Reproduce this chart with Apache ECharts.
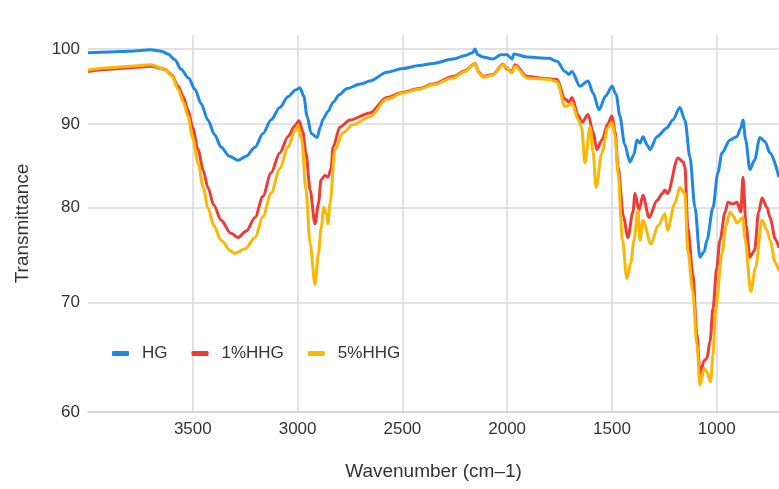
<!DOCTYPE html>
<html>
<head>
<meta charset="utf-8">
<title>FTIR</title>
<script src="https://cdn.jsdelivr.net/npm/echarts@6/dist/echarts.min.js"></script>
<style>
  html, body { margin: 0; padding: 0; background: #fff; }
  #main { width: 779px; height: 489px; }
</style>
</head>
<body>
<div id="main"></div>
<script>
// wavenumber (cm-1) / transmittance
var hgWave = [4000,3900,3800,3700,3650,3618,3585,3556,3520,3490,3460,3428,3395,3365,3325,3284,3245,3203,3165,3127,3085,3046,3010,2989,2970,2955,2935,2907,2890,2879,2855,2830,2800,2764,2700,2655,2574,2497,2420,2354,2259,2200,2165,2154,2140,2116,2068,2030,2000,1985,1977,1968,1905,1800,1762,1724,1705,1691,1653,1614,1590,1562,1530,1500,1480,1462,1440,1414,1395,1381,1366,1352,1330,1319,1285,1238,1210,1176,1152,1128,1104,1080,1060,1047,1018,995,975,937,904,885,875,862,842,820,794,770,746,703];
var hgT = [99.5,99.6,99.7,99.9,99.7,99.3,98.5,97.2,96.0,94.5,92.6,90.5,88.6,87.1,86.0,85.5,86.0,87.1,88.8,90.5,92.1,93.5,94.4,94.7,93.6,91.0,88.8,88.3,89.7,90.6,91.6,92.8,93.8,94.6,95.2,95.6,96.8,97.3,97.7,98.0,98.6,99.1,99.5,100.0,99.2,98.9,98.6,99.2,99.2,98.8,98.6,99.3,98.9,98.7,98.3,96.9,96.5,96.9,94.9,95.6,94.0,91.8,93.6,94.9,93.8,91.0,87.5,85.3,86.2,88.0,87.6,88.4,87.3,86.8,88.4,89.5,90.5,92.1,90.5,85.9,80.0,74.6,75.2,76.4,80.0,84.0,86.4,88.0,88.4,89.5,90.5,88.0,84.4,85.5,88.3,87.8,86.4,83.5];

var hhg1Wave = [4000,3900,3800,3700,3633,3600,3570,3545,3523,3500,3475,3450,3428,3400,3365,3320,3284,3245,3203,3165,3127,3085,3046,3015,2993,2975,2960,2940,2917,2900,2888,2870,2855,2840,2831,2798,2750,2655,2574,2497,2420,2354,2259,2200,2154,2135,2116,2068,2020,2000,1985,1977,1963,1905,1800,1762,1724,1705,1691,1660,1643,1614,1590,1572,1548,1520,1500,1485,1471,1445,1424,1400,1390,1371,1352,1323,1285,1260,1247,1235,1185,1160,1152,1138,1114,1095,1080,1060,1047,1032,1018,1000,985,960,947,925,904,885,875,860,842,820,800,784,760,746,720,703];
var hhg1T = [96.9,97.2,97.4,97.6,97.2,96.4,94.9,93.5,91.8,89.5,86.8,84.3,82.3,80.3,78.6,77.2,76.7,77.4,78.9,81.3,84.0,86.4,88.4,89.7,90.4,89.0,86.4,82.0,78.2,80.5,83.2,83.7,83.5,84.5,87.1,89.6,90.5,91.4,93.4,94.1,94.6,95.2,96.2,97.0,98.0,96.8,96.2,96.5,97.9,97.2,97.0,96.9,97.8,96.2,95.9,95.8,93.2,92.8,93.4,91.0,90.2,91.2,89.0,86.8,88.0,90.0,91.0,89.0,84.7,79.0,76.7,79.5,81.6,79.7,81.4,78.9,80.8,81.6,82.0,81.6,85.8,85.3,84.7,77.8,72.9,67.0,63.3,64.5,64.7,66.3,69.4,73.5,76.4,79.5,80.6,80.4,80.6,79.5,83.5,78.0,74.6,75.3,79.5,81.1,80.0,78.9,76.5,75.6];

var hhg5Wave = [4000,3900,3800,3700,3633,3600,3570,3545,3523,3500,3475,3450,3428,3400,3365,3320,3299,3250,3203,3165,3127,3085,3046,3015,2998,2980,2960,2940,2917,2900,2888,2875,2862,2855,2845,2822,2783,2736,2655,2574,2497,2420,2354,2259,2200,2154,2135,2116,2068,2020,2000,1985,1977,1963,1905,1800,1762,1724,1705,1691,1660,1645,1629,1605,1590,1576,1548,1520,1500,1485,1471,1450,1429,1410,1395,1376,1366,1352,1314,1280,1247,1235,1200,1176,1152,1138,1114,1095,1080,1060,1047,1030,1018,1005,975,955,937,920,904,875,865,837,815,784,760,746,720,703];
var hhg5T = [97.1,97.4,97.6,97.8,97.2,96.3,94.5,92.8,91.0,88.2,85.2,82.3,80.0,78.0,76.4,75.3,75.0,75.5,76.7,79.0,81.6,84.5,87.1,89.0,89.8,88.0,82.0,76.0,71.8,75.0,77.7,80.0,79.3,78.2,80.5,86.8,88.9,89.9,90.9,93.2,94.0,94.5,95.1,96.0,96.9,98.0,96.7,96.1,96.4,97.8,97.4,96.8,96.7,97.6,96.0,95.8,95.5,92.2,92.4,92.7,90.5,89.6,85.2,89.6,86.5,82.3,86.4,89.5,90.2,88.5,84.0,76.5,72.4,74.0,76.4,79.7,76.4,78.6,76.0,78.0,79.3,77.5,80.5,82.3,81.6,75.3,71.1,66.0,62.3,63.8,63.5,62.6,65.0,69.4,75.0,78.0,79.5,79.0,78.3,78.9,76.5,71.1,73.5,78.6,77.5,76.4,74.0,73.2];

var seriesNames = ['HG', '1%HHG', '5%HHG'];
var seriesColors = ['#1e88e5', '#ef3b36', '#fbb704'];
var xTicks = [1000, 1500, 2000, 2500, 3000, 3500];
var yTicks = [60, 70, 80, 90, 100];

function pairs(xs, ys) {
  return xs.map(function (x, i) { return [x, ys[i]]; });
}

var seriesData = [pairs(hgWave, hgT), pairs(hhg1Wave, hhg1T), pairs(hhg5Wave, hhg5T)];

var font = 'Liberation Sans, Arial, sans-serif';
var textColor = '#333333';
var chart = echarts.init(document.getElementById('main'));

chart.setOption({
  animation: false,
  backgroundColor: '#ffffff',
  textStyle: { fontFamily: font },
  grid: { left: 88, right: 0, top: 35, bottom: 77 },
  legend: {
    left: 107,
    top: 340,
    icon: 'roundRect',
    itemWidth: 17,
    itemHeight: 5,
    itemGap: 24,
    textStyle: { fontSize: 17, color: textColor, fontFamily: font, padding: [0, 0, 0, 8] },
    data: seriesNames
  },
  xAxis: {
    type: 'value',
    inverse: true,
    min: 703,
    max: 4000,
    name: 'Wavenumber (cm\u20131)',
    nameLocation: 'middle',
    nameGap: 50,
    nameTextStyle: { fontSize: 19, color: textColor, fontFamily: font },
    axisLine: { lineStyle: { color: '#d0d0d0', width: 1.5 } },
    axisTick: { show: false, customValues: xTicks },
    axisLabel: {
      customValues: xTicks,
      fontSize: 17,
      color: textColor,
      margin: 9,
      fontFamily: font,
      formatter: function (v) { return String(v); }
    },
    splitLine: { lineStyle: { color: '#d9d9d9', width: 1.5 } }
  },
  yAxis: {
    type: 'log',
    logBase: 10,
    min: 60,
    max: 102,
    name: 'Transmittance',
    nameLocation: 'middle',
    nameRotate: 90,
    nameGap: 56,
    nameTextStyle: { fontSize: 19, color: textColor, fontFamily: font },
    axisLine: { show: false },
    axisTick: { show: false, customValues: yTicks },
    axisLabel: {
      customValues: yTicks,
      fontSize: 17,
      color: textColor,
      margin: 8,
      fontFamily: font,
      formatter: function (v) { return String(Math.round(v)); }
    },
    splitLine: { lineStyle: { color: '#d9d9d9', width: 1.5 } }
  },
  series: seriesNames.map(function (name, i) {
    return {
      name: name,
      type: 'line',
      data: seriesData[i],
      showSymbol: false,
      symbol: 'none',
      smooth: 0.3,
      smoothMonotone: 'x',
      lineStyle: { color: seriesColors[i], width: 3 },
      itemStyle: { color: seriesColors[i] }
    };
  })
});
</script>
</body>
</html>
